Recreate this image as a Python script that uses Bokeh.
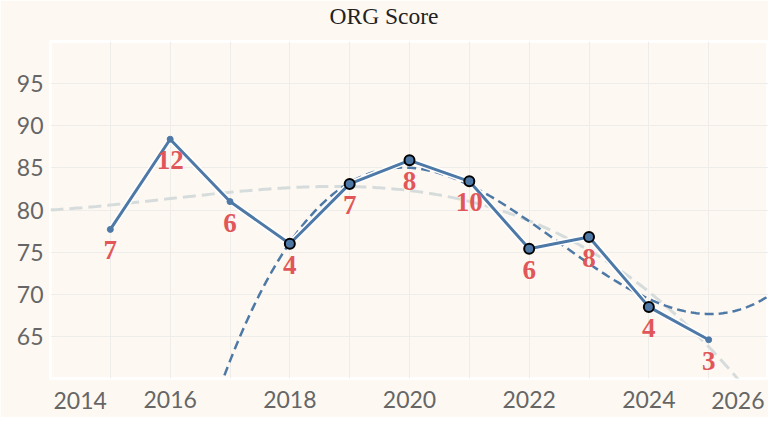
import numpy as np
from bokeh.plotting import figure
from bokeh.models import Range1d, FixedTicker, ColumnDataSource, Title
from bokeh.core.properties import value
from bokeh.embed import file_html
from bokeh.resources import INLINE

# ---- data ----
years = [2015, 2016, 2017, 2018, 2019, 2020, 2021, 2022, 2023, 2024, 2025]
scores = [77.7, 88.4, 81.0, 76.0, 83.1, 85.9, 83.4, 75.4, 76.8, 68.5, 64.6]
counts = ["7", "12", "6", "4", "7", "8", "10", "6", "8", "4", "3"]
highlighted = [False, False, False, True, True, True, True, True, True, True, False]
x_tick_years = [2014, 2016, 2018, 2020, 2022, 2024, 2026]
x_grid_years = [2014, 2015, 2016, 2017, 2018, 2019, 2020, 2021, 2022, 2023, 2024, 2025, 2026]
y_tick_values = [65, 70, 75, 80, 85, 90, 95]
y_grid_values = [60, 65, 70, 75, 80, 85, 90, 95, 100]
title_text = "ORG Score"

# ---- styling ----
W, H = 768, 417
BG = "#fdf9f2"
BLUE = "#4e79a7"
RED = "#e15759"
GRID = "#efedea"
LABEL = "#666666"
TICK_FONT = "Lato"
TICK_SIZE = "23px"

x0, x1 = x_grid_years[0], x_grid_years[-1]
y0, y1 = y_grid_values[0], y_grid_values[-1]

yrs = np.array(years, dtype=float)
sc = np.array(scores, dtype=float)
hl = np.array(highlighted)

# cubic trend lines fitted to the data (all points, and highlighted points)
xf = np.linspace(x0, x1, 300)
c_all = np.polyfit(yrs - 2020, sc, 3)
c_hl = np.polyfit(yrs[hl] - 2020, sc[hl], 3)
trend_all = np.polyval(c_all, xf - 2020)
trend_hl = np.polyval(c_hl, xf - 2020)

src = ColumnDataSource(dict(year=years, score=scores, count=counts))
src_hl = ColumnDataSource(dict(year=list(yrs[hl]), score=list(sc[hl])))
src_lo = ColumnDataSource(dict(year=list(yrs[~hl]), score=list(sc[~hl])))

p = figure(width=W, height=H, output_backend="svg", toolbar_location=None, title=None,
           x_range=Range1d(x0, x1), y_range=Range1d(y0, y1),
           min_border_left=50, min_border_right=0, min_border_top=41, min_border_bottom=39)
p.background_fill_color = BG
p.border_fill_color = BG
# white separator under the title band
p.outline_line_color = "white"
p.outline_line_width = 3

# spacer between the frame and the title (closest to the frame)
p.add_layout(Title(text="\u00a0", text_font_size="10px", standoff=0,
                   text_color=BG), "above")
p.add_layout(Title(text=title_text, text_font="Liberation Serif", text_font_size="23.5px",
                   text_font_style="normal", text_color="#222222", align="left",
                   offset=279, standoff=0, vertical_align="bottom"), "above")

# grids
p.xgrid.ticker = FixedTicker(ticks=x_grid_years)
p.ygrid.ticker = FixedTicker(ticks=y_grid_values)
p.grid.grid_line_color = GRID
p.grid.grid_line_width = 1

# axes
p.xaxis.ticker = FixedTicker(ticks=x_tick_years[1:-1])
p.yaxis.ticker = FixedTicker(ticks=y_tick_values)
for ax in (p.xaxis, p.yaxis):
    ax.axis_line_color = None
    ax.major_tick_line_color = None
    ax.minor_tick_line_color = None
    ax.major_label_text_font = TICK_FONT
    ax.major_label_text_font_size = TICK_SIZE
    ax.major_label_text_color = LABEL
p.yaxis.major_label_standoff = 1
p.xaxis.major_label_standoff = 6

# end tick labels, flush with the plot edges
end_src = ColumnDataSource(dict(
    year=[x_tick_years[0], x_tick_years[-1]],
    base=[y0, y0],
    label=[str(x_tick_years[0]), str(x_tick_years[-1])],
    align=["left", "right"],
    dx=[3, -4],
))
p.text("year", "base", text="label", source=end_src, text_align="align", x_offset="dx",
       y_offset=22, text_baseline="middle", text_font=value(TICK_FONT),
       text_font_size=TICK_SIZE, text_color=LABEL, level="overlay")

# trend lines
p.line(xf, trend_all, line_color="#d6dcdc", line_width=3, line_dash="13 6")
p.line(xf, trend_hl, line_color=BLUE, line_width=2.5, line_dash="9 5")

# main line with white halo
p.line("year", "score", source=src, line_color="white", line_width=6)
p.line("year", "score", source=src, line_color=BLUE, line_width=3)

# markers
p.scatter("year", "score", source=src_lo, size=6, fill_color=BLUE, line_color=BLUE)
p.scatter("year", "score", source=src_hl, size=10, fill_color=BLUE, line_color="black", line_width=2)

# count labels
p.text("year", "score", text="count", source=src, text_font=value("Liberation Serif"),
       text_font_style="bold", text_font_size="27px", text_color=RED,
       text_align="center", text_baseline="top", y_offset=12)

open("out.html", "w").write(file_html(p, INLINE))
